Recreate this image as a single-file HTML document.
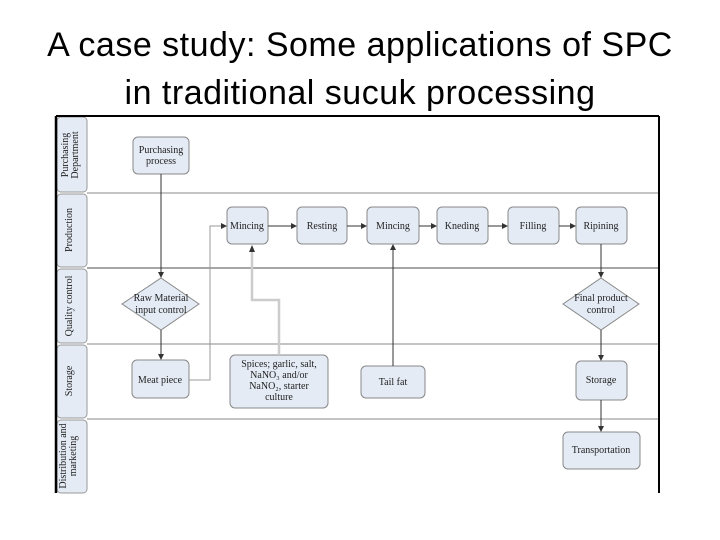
<!DOCTYPE html>
<html><head><meta charset="utf-8"><style>
body{margin:0;width:720px;height:540px;background:#fff;overflow:hidden}
.t{position:absolute;left:0;width:720px;text-align:center;font-family:"Liberation Sans",sans-serif;font-size:34px;letter-spacing:0.5px;color:#000;line-height:40px}
svg{position:absolute;left:0;top:0}
svg text{font-family:"Liberation Serif",serif;font-size:10px;fill:#222}
</style></head><body>
<div class="t" style="top:25px">A case study: Some applications of SPC</div>
<div class="t" style="top:73px">in traditional sucuk processing</div>
<svg width="720" height="540">
<defs><marker id="a" markerWidth="6" markerHeight="6" refX="5" refY="3" orient="auto"><path d="M0,0L6,3L0,6z" fill="#333"/></marker></defs>
<g fill="#e4ebf5" stroke="#999" stroke-width="1">
<rect x="57" y="117" width="30" height="75" rx="4"/>
<rect x="57" y="194" width="30" height="73" rx="4"/>
<rect x="57" y="269" width="30" height="74" rx="4"/>
<rect x="57" y="345" width="30" height="73" rx="4"/>
<rect x="57" y="420" width="30" height="73" rx="4"/>
</g>
<g stroke="#888" stroke-width="1">
<line x1="87" y1="193" x2="658" y2="193"/>
<line x1="87" y1="268" x2="658" y2="268" stroke-width="1.5"/>
<line x1="87" y1="344" x2="658" y2="344"/>
<line x1="87" y1="419" x2="658" y2="419"/>
</g>
<line x1="56" y1="116" x2="659" y2="116" stroke="#000" stroke-width="2"/>
<line x1="56" y1="116" x2="56" y2="493" stroke="#000" stroke-width="2.5"/>
<line x1="659" y1="116" x2="659" y2="493" stroke="#000" stroke-width="2"/>
<g font-size="9" text-anchor="middle">
<text transform="translate(68,155) rotate(-90)">Purchasing</text>
<text transform="translate(78,155) rotate(-90)">Department</text>
<text transform="translate(72,230) rotate(-90)">Production</text>
<text transform="translate(72,306) rotate(-90)">Quality control</text>
<text transform="translate(72,381) rotate(-90)">Storage</text>
<text transform="translate(66,456) rotate(-90)">Distribution and</text>
<text transform="translate(76,456) rotate(-90)">marketing</text>
</g>
<g fill="#e4ebf5" stroke="#888" stroke-width="1">
<rect x="133" y="137" width="56" height="37" rx="5"/>
<rect x="227" y="207" width="41" height="37" rx="5"/>
<rect x="297" y="207" width="50" height="37" rx="5"/>
<rect x="367" y="207" width="52" height="37" rx="5"/>
<rect x="437" y="207" width="51" height="37" rx="5"/>
<rect x="508" y="207" width="51" height="37" rx="5"/>
<rect x="576" y="207" width="51" height="37" rx="5"/>
<path d="M161,278L199,304L161,330L122,304z"/>
<path d="M601,278L639,304L601,330L563,304z"/>
<rect x="132" y="360" width="57" height="38" rx="5"/>
<rect x="230" y="355" width="98" height="53" rx="5"/>
<rect x="361" y="366" width="64" height="32" rx="5"/>
<rect x="576" y="361" width="51" height="39" rx="5"/>
<rect x="563" y="432" width="77" height="37" rx="5"/>
</g>
<g stroke="#333" stroke-width="1" fill="none" marker-end="url(#a)">
<line x1="161" y1="174" x2="161" y2="277"/>
<line x1="161" y1="330" x2="161" y2="359"/>
<line x1="268" y1="226" x2="296" y2="226"/>
<line x1="347" y1="226" x2="366" y2="226"/>
<line x1="419" y1="226" x2="436" y2="226"/>
<line x1="488" y1="226" x2="507" y2="226"/>
<line x1="559" y1="226" x2="575" y2="226"/>
<line x1="601" y1="244" x2="601" y2="277"/>
<line x1="601" y1="330" x2="601" y2="360"/>
<line x1="601" y1="400" x2="601" y2="431"/>
<line x1="393" y1="366" x2="393" y2="245"/>
<path d="M189,380H210V226H226" stroke="#999"/>
</g>
<path d="M279,355V300H252V250" stroke="#ccc" stroke-width="2.5" fill="none"/>
<path d="M249,252L252,245L255,252z" fill="#333"/>
<g text-anchor="middle">
<text x="161" y="153">Purchasing</text><text x="161" y="164">process</text>
<text x="247" y="229">Mincing</text>
<text x="322" y="229">Resting</text>
<text x="393" y="229">Mincing</text>
<text x="462" y="229">Kneding</text>
<text x="533" y="229">Filling</text>
<text x="601" y="229">Ripining</text>
<text x="161" y="301">Raw Material</text><text x="161" y="313">input control</text>
<text x="601" y="301">Final product</text><text x="601" y="313">control</text>
<text x="160" y="383">Meat piece</text>
<text x="279" y="367">Spices; garlic, salt,</text>
<text x="279" y="378">NaNO₃ and/or</text>
<text x="279" y="389">NaNO₂, starter</text>
<text x="279" y="400">culture</text>
<text x="393" y="385">Tail fat</text>
<text x="601" y="383">Storage</text>
<text x="601" y="453">Transportation</text>
</g>
</svg>
</body></html>
